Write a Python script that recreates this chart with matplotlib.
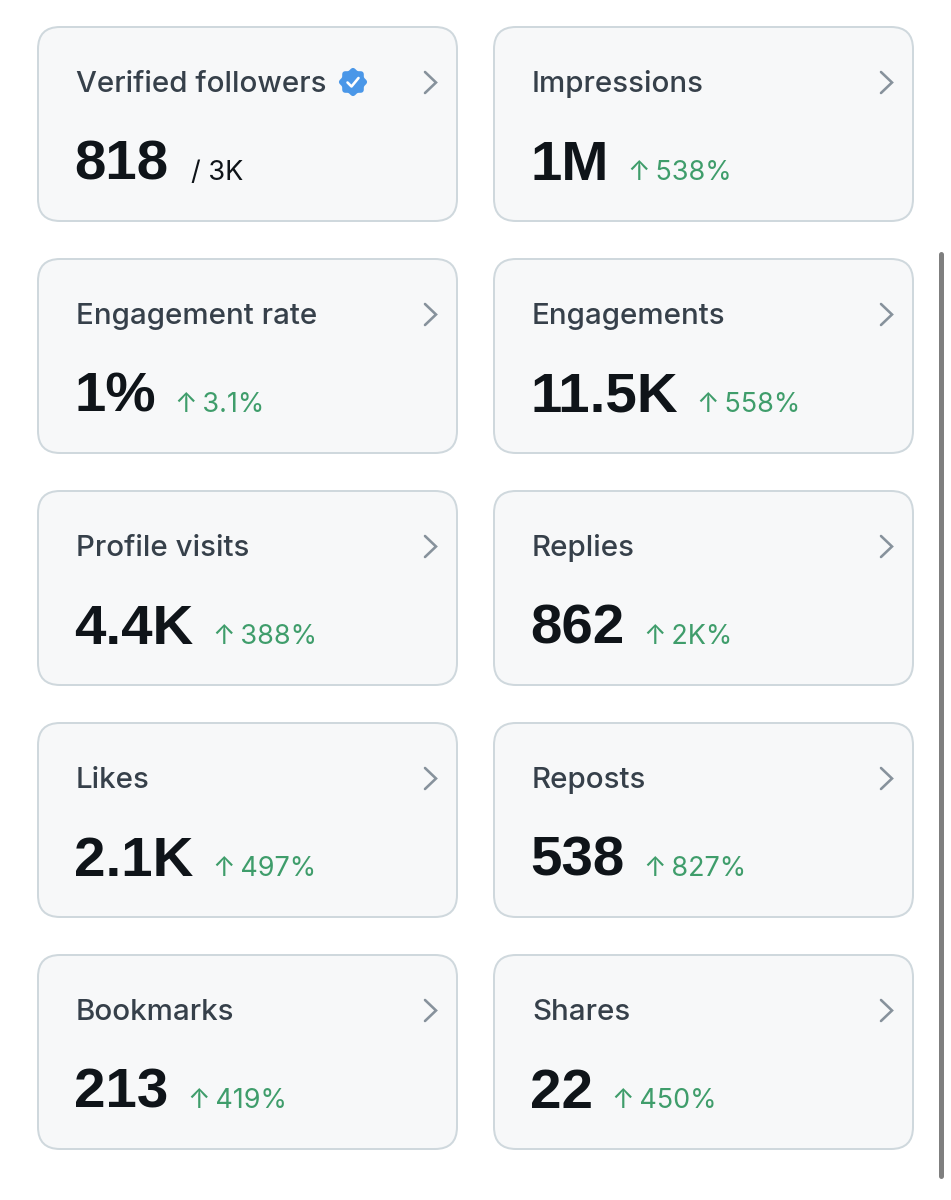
import matplotlib.pyplot as plt
import numpy as np
from matplotlib.patches import FancyBboxPatch, Polygon

titles = ["Verified followers", "Impressions", "Engagement rate", "Engagements",
          "Profile visits", "Replies", "Likes", "Reposts", "Bookmarks", "Shares"]
values = ["818", "1M", "1%", "11.5K", "4.4K", "862", "2.1K", "538", "213", "22"]
changes = ["/ 3K", "538%", "3.1%", "558%", "388%", "2K%", "497%", "827%", "419%", "450%"]

W, H = 951, 1200
PT = 72 / 100  # pixels -> points

fig = plt.figure(figsize=(W / 100, H / 100), dpi=100)
fig.patch.set_facecolor('white')
ax = fig.add_axes([0, 0, 1, 1])
ax.set_xlim(0, W)
ax.set_ylim(H, 0)
ax.axis('off')

col_x = [38, 494]
card_w, card_h = 419, 194
row_top, row_step = 27, 232

title_font = ['Inter', 'DejaVu Sans']
num_font = ['Liberation Sans', 'DejaVu Sans']

for i, (title, value, change) in enumerate(zip(titles, values, changes)):
    x0 = col_x[i % 2]
    y0 = row_top + row_step * (i // 2)
    x1 = x0 + card_w

    card = FancyBboxPatch((x0, y0), card_w, card_h,
                          boxstyle="round,pad=0,rounding_size=22",
                          fc='#f7f8f9', ec='#cfd8dd', lw=2 * PT)
    ax.add_patch(card)

    ax.text(x0 + 38, y0 + 65, title, fontsize=29.5 * PT, color='#36404a',
            family=title_font, weight=500, va='baseline', ha='left')

    # chevron
    ax.plot([x1 - 32, x1 - 21, x1 - 32], [y0 + 45, y0 + 55.5, y0 + 66],
            color='#87929c', lw=2.6 * PT, solid_capstyle='round',
            solid_joinstyle='miter')

    num = ax.text(x0 + 36.5, y0 + 153, value, fontsize=56.5 * PT, color='#0f1419',
                  family=num_font, weight='bold', va='baseline', ha='left')

    if change.startswith('/'):
        ax.annotate(change, xy=(1, y0 + 153), xycoords=(num, 'data'),
                    xytext=(22, 0), textcoords='offset pixels',
                    fontsize=27 * PT, color='#0f1419', family=title_font,
                    va='baseline', ha='left')
    else:
        ax.annotate('\u2191\u2009' + change, xy=(1, y0 + 153), xycoords=(num, 'data'),
                    xytext=(19, 0), textcoords='offset pixels',
                    fontsize=27 * PT, color='#3f9d6b', family=title_font,
                    va='baseline', ha='left')

# verified badge next to first title
bx, by = 353, 82
theta = np.linspace(0, 2 * np.pi, 241)
r = 13 * (1 + 0.08 * np.cos(8 * theta))
ax.add_patch(Polygon(np.column_stack([bx + r * np.cos(theta), by + r * np.sin(theta)]),
                     closed=True, fc='#4a97e8', ec='none'))
ax.plot([bx - 5.5, bx - 1.5, bx + 5.5], [by + 0.5, by + 4.5, by - 4],
        color='white', lw=2.6 * PT, solid_capstyle='round', solid_joinstyle='round')

# scrollbar
ax.plot([940.5, 940.5], [254, 1176], color='#7f7f7f', lw=5 * PT,
        solid_capstyle='round')

fig.savefig('out.png', dpi=100, facecolor='white')
